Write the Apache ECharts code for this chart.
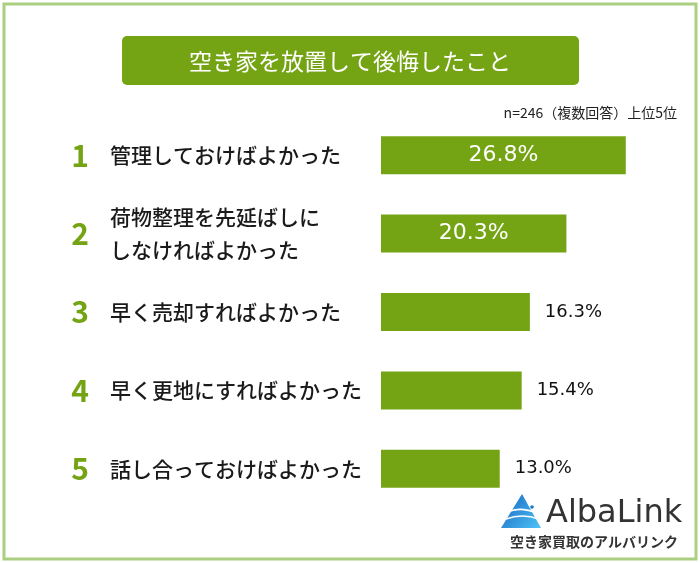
<!DOCTYPE html>
<html>
<head>
<meta charset="utf-8">
<script src="https://cdn.jsdelivr.net/npm/echarts@6/dist/echarts.min.js"></script>
<style>
html,body{margin:0;padding:0;background:#fff;}
#chart{width:700px;height:563px;}
</style>
</head>
<body>
<div id="chart"></div>
<script>
const titleText = '空き家を放置して後悔したこと';
const noteText = 'n=246（複数回答）上位5位';
const ranks = ['1', '2', '3', '4', '5'];
const categories = [
  '管理しておけばよかった',
  '荷物整理を先延ばしに\nしなければよかった',
  '早く売却すればよかった',
  '早く更地にすればよかった',
  '話し合っておけばよかった'
];
const values = [26.8, 20.3, 16.3, 15.4, 13.0];
const insideCount = 2;

const GREEN = '#74a414';
const JP = '"Noto Sans CJK JP", "Noto Sans", sans-serif';

const chart = echarts.init(document.getElementById('chart'), null, {renderer: 'canvas'});

const barData = values.map((v, i) => ({
  value: v,
  label: i < insideCount
    ? {position: 'inside', color: '#fff', fontSize: 22}
    : {position: 'right', distance: 15, color: '#111', fontSize: 18}
}));

const option = {
  backgroundColor: '#fff',
  animation: false,
  grid: {left: 381, width: 274, top: 116, bottom: 55},
  xAxis: {
    type: 'value', min: 0, max: 30, show: false
  },
  yAxis: [
    {
      type: 'category', data: categories, inverse: true,
      axisLine: {show: false}, axisTick: {show: false},
      axisLabel: {
        align: 'left', margin: 271, fontSize: 21, lineHeight: 33,
        color: '#1a1a1a', fontFamily: JP, fontWeight: 500
      }
    },
    {
      type: 'category', data: ranks, inverse: true, position: 'left',
      axisLine: {show: false}, axisTick: {show: false},
      axisLabel: {
        align: 'center', margin: 301, fontSize: 30, fontWeight: 'bold',
        color: GREEN, fontFamily: JP
      }
    }
  ],
  series: [{
    type: 'bar',
    yAxisIndex: 0,
    data: barData,
    barWidth: 38,
    itemStyle: {color: GREEN},
    label: {
      show: true,
      fontFamily: '"DejaVu Sans", sans-serif',
      formatter: p => p.value.toFixed(1) + '%'
    }
  }],
  graphic: [
    {
      type: 'rect', silent: true,
      shape: {x: 4, y: 4, width: 692, height: 555},
      style: {fill: null, stroke: '#abcf80', lineWidth: 3}
    },
    {
      type: 'rect', silent: true,
      shape: {x: 122, y: 36, width: 457, height: 49, r: 5},
      style: {fill: GREEN}
    },
    {
      type: 'text', silent: true, x: 350, y: 61,
      style: {text: titleText, fill: '#fff', font: '23px ' + JP, align: 'center', verticalAlign: 'middle'}
    },
    {
      type: 'text', silent: true, x: 677, y: 113,
      style: {text: noteText, fill: '#222', font: '14px ' + JP, align: 'right', verticalAlign: 'middle'}
    },
    {
      type: 'polygon', silent: true,
      shape: {points: [[522, 494], [501, 528], [541, 528]]},
      style: {
        fill: new echarts.graphic.LinearGradient(0, 0, 1, 1, [
          {offset: 0, color: '#1565c0'},
          {offset: 1, color: '#4fc3f7'}
        ])
      }
    },
    {
      type: 'bezierCurve', silent: true,
      shape: {x1: 510, y1: 511, x2: 537, y2: 513, cpx1: 522, cpy1: 507},
      style: {stroke: '#fff', lineWidth: 1.6, fill: null}
    },
    {
      type: 'bezierCurve', silent: true,
      shape: {x1: 506, y1: 519, x2: 539, y2: 519, cpx1: 522, cpy1: 513},
      style: {stroke: '#fff', lineWidth: 1.6, fill: null}
    },
    {
      type: 'circle', silent: true,
      shape: {cx: 532, cy: 507, r: 1.8},
      style: {fill: '#1976d2'}
    },
    {
      type: 'text', silent: true, x: 546, y: 514,
      style: {text: 'AlbaLink', fill: '#333', font: '32px "DejaVu Sans", sans-serif', align: 'left', verticalAlign: 'middle'}
    },
    {
      type: 'text', silent: true, x: 594, y: 542,
      style: {text: '空き家買取のアルバリンク', fill: '#333', font: 'bold 14px ' + JP, align: 'center', verticalAlign: 'middle'}
    }
  ]
};
chart.setOption(option);
</script>
</body>
</html>
